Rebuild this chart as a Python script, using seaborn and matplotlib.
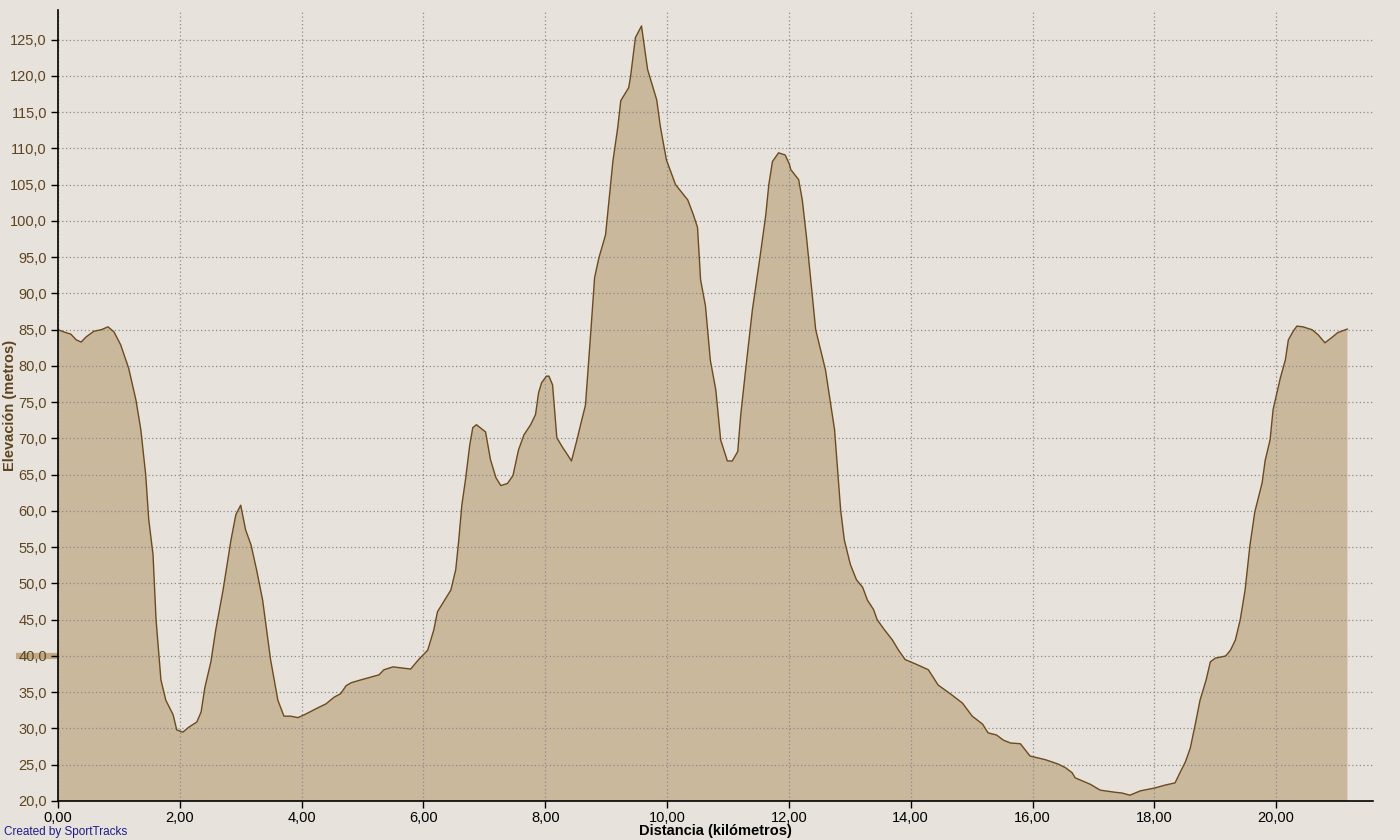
import numpy as np
import pandas as pd
import matplotlib
matplotlib.use("Agg")
import matplotlib.pyplot as plt
import matplotlib.transforms as mtransforms
from matplotlib.ticker import MultipleLocator, FuncFormatter
import seaborn as sns

distance_km = [
    0.00, 0.13, 0.21, 0.30, 0.38, 0.46, 0.59, 0.71, 0.82, 0.92, 1.03, 1.16, 1.28, 1.36,
    1.44, 1.49, 1.56, 1.61, 1.69, 1.77, 1.89, 1.95, 2.05, 2.15, 2.28, 2.35, 2.41, 2.51,
    2.59, 2.71, 2.84, 2.92, 3.00, 3.08, 3.17, 3.26, 3.36, 3.49, 3.61, 3.71, 3.82, 3.94,
    4.07, 4.23, 4.40, 4.53, 4.64, 4.73, 4.81, 4.97, 5.27, 5.35, 5.50, 5.79, 5.92, 6.07,
    6.17, 6.23, 6.45, 6.53, 6.58, 6.63, 6.69, 6.76, 6.81, 6.87, 7.02, 7.10, 7.19, 7.27,
    7.38, 7.47, 7.56, 7.65, 7.76, 7.84, 7.89, 7.94, 8.02, 8.06, 8.12, 8.19, 8.29, 8.37,
    8.43, 8.52, 8.58, 8.66, 8.75, 8.81, 8.88, 8.99, 9.11, 9.19, 9.24, 9.37, 9.40, 9.48,
    9.58, 9.68, 9.83, 9.89, 9.99, 10.14, 10.34, 10.43, 10.50, 10.55, 10.63, 10.71, 10.80,
    10.88, 10.99, 11.07, 11.16, 11.21, 11.29, 11.40, 11.53, 11.62, 11.67, 11.73, 11.83,
    11.94, 12.01, 12.03, 12.16, 12.22, 12.29, 12.44, 12.60, 12.75, 12.85, 12.91, 13.01,
    13.11, 13.21, 13.29, 13.39, 13.45, 13.57, 13.70, 13.80, 13.91, 14.08, 14.29, 14.45,
    14.68, 14.85, 15.01, 15.18, 15.27, 15.41, 15.52, 15.64, 15.80, 15.96, 16.21, 16.42,
    16.54, 16.65, 16.70, 16.95, 17.11, 17.36, 17.47, 17.60, 17.77, 18.01, 18.18, 18.34,
    18.42, 18.51, 18.59, 18.67, 18.75, 18.85, 18.92, 19.00, 19.17, 19.25, 19.33, 19.41,
    19.49, 19.57, 19.65, 19.77, 19.82, 19.90, 19.95, 20.07, 20.15, 20.20, 20.28, 20.34,
    20.44, 20.59, 20.69, 20.80, 20.91, 21.01, 21.17,
]
elevation_m = [
    85.0, 84.6, 84.4, 83.6, 83.3, 84.0, 84.8, 85.0, 85.4, 84.7, 82.9, 79.7, 75.3, 71.2,
    65.0, 58.8, 54.0, 45.0, 36.7, 33.9, 31.9, 29.8, 29.5, 30.2, 30.9, 32.3, 35.6, 39.2,
    43.6, 49.1, 56.0, 59.5, 60.8, 57.4, 55.3, 51.9, 47.7, 39.5, 33.9, 31.7, 31.7, 31.5,
    32.0, 32.7, 33.4, 34.3, 34.8, 35.9, 36.3, 36.7, 37.4, 38.1, 38.5, 38.2, 39.5, 40.8,
    43.6, 46.1, 49.1, 51.9, 56.0, 60.8, 64.3, 69.1, 71.5, 71.9, 70.9, 67.1, 64.6, 63.5,
    63.8, 64.9, 68.4, 70.5, 71.9, 73.3, 76.3, 77.7, 78.6, 78.6, 77.4, 70.1, 68.7, 67.7,
    66.9, 69.8, 71.9, 74.6, 85.0, 92.2, 94.9, 98.1, 108.2, 112.9, 116.6, 118.4, 119.9, 125.3,
    126.9, 120.9, 116.7, 113.0, 108.4, 105.0, 102.9, 100.9, 99.1, 91.9, 88.3, 80.8, 76.7,
    69.8, 66.9, 66.9, 68.2, 73.3, 79.5, 87.7, 95.3, 100.8, 105.0, 108.2, 109.4,
    109.1, 107.8, 107.1, 105.7, 102.9, 97.7, 85.0, 79.5, 71.2, 60.1, 56.0, 52.6,
    50.5, 49.5, 47.7, 46.4, 45.0, 43.6, 42.2, 40.8, 39.5, 38.9, 38.1, 36.0,
    34.6, 33.5, 31.7, 30.6, 29.4, 29.1, 28.4, 28.0, 27.9, 26.2, 25.7, 25.1,
    24.6, 23.9, 23.2, 22.3, 21.5, 21.2, 21.1, 20.8, 21.4, 21.8, 22.2, 22.5,
    23.9, 25.4, 27.3, 30.5, 33.9, 36.7, 39.2, 39.7, 40.0, 40.8, 42.2, 45.0,
    49.1, 55.3, 59.9, 63.9, 67.0, 69.8, 74.0, 78.4, 80.8, 83.6, 84.8, 85.5,
    85.4, 85.0, 84.3, 83.2, 83.9, 84.6, 85.1,
]

x_label = "Distancia (kilómetros)"
y_label = "Elevación (metros)"
credit = "Created by SportTracks"

bg = "#e7e3dc"
fill_c = "#cab89c"
line_c = "#6b4a1e"
ylab_c = "#5e4420"

sns.set_theme(style="ticks")
plt.rcParams["font.family"] = ["Liberation Sans", "DejaVu Sans"]

df = pd.DataFrame({"km": distance_km, "m": elevation_m})

fig = plt.figure(figsize=(14, 8.4), dpi=100, facecolor=bg)
ax = fig.add_axes([58 / 1400, 1 - 801 / 840, (1373 - 58) / 1400, (801 - 10) / 840])
ax.set_facecolor(bg)

ax.fill_between(df["km"], df["m"], 0, color=fill_c, linewidth=0, zorder=2)
sns.lineplot(data=df, x="km", y="m", ax=ax, color=line_c, linewidth=1.0,
             sort=False, zorder=3)

ax.set_xlim(0, 21.59)
ax.set_ylim(20, 129.1)
ax.xaxis.set_major_locator(MultipleLocator(2))
ax.yaxis.set_major_locator(MultipleLocator(5))
ax.xaxis.set_major_formatter(FuncFormatter(lambda v, p: f"{v:.2f}".replace(".", ",")))
ax.yaxis.set_major_formatter(FuncFormatter(lambda v, p: f"{v:.1f}".replace(".", ",")))

ax.grid(True, which="major", color="#8a8a8a", linestyle=(0, (1, 2)), linewidth=0.9, zorder=4)
ax.set_axisbelow(False)
for s in ["top", "right"]:
    ax.spines[s].set_visible(False)
for s in ["left", "bottom"]:
    ax.spines[s].set_color("black")
    ax.spines[s].set_linewidth(1.2)
    ax.spines[s].set_zorder(5)

ax.tick_params(axis="y", direction="out", length=5, width=1, color="black",
               labelcolor=ylab_c, labelsize=10.5, pad=3)
ax.tick_params(axis="x", direction="out", length=5, width=1, color="black",
               labelcolor="black", labelsize=10.5, pad=2)

ax.set_xlabel("")
ax.set_ylabel("")
fig.text(715 / 1400, 1 - 831 / 840, x_label, fontsize=10.5, fontweight="bold",
         color="black", ha="center", va="center")
fig.text(10 / 1400, 1 - 405 / 840, y_label, fontsize=10.5, fontweight="bold",
         color=ylab_c, ha="center", va="center", rotation=90)

# small marker bar at 40 m left of the axis
trans = mtransforms.blended_transform_factory(ax.transAxes, ax.transData)
ax.plot([(16 - 58) / 1315, 0], [40, 40], transform=trans, color="#c2a887",
        linewidth=4.5, solid_capstyle="butt", clip_on=False, zorder=1)

fig.text(4 / 1400, 1 - 832 / 840, credit, color="#1c1c8c", fontsize=8.5,
         ha="left", va="center")

fig.savefig("out.png", dpi=100, facecolor=bg)
